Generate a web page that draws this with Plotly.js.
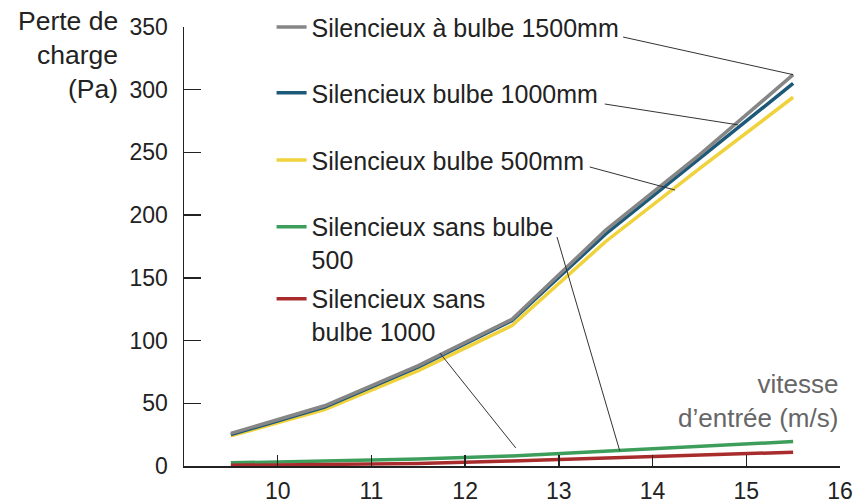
<!DOCTYPE html>
<html><head><meta charset="utf-8">
<script src="https://cdn.plot.ly/plotly-3.0.1.min.js"></script>
<style>html,body{margin:0;padding:0;background:#fff}</style>
</head><body><div id="chart" style="width:857px;height:504px"></div>
<script>
// ---- data ----
const speed = [9.5, 10.5, 11.5, 12.5, 13.5, 14.5, 15.5];           // vitesse d'entrée (m/s)
const bulbe1500 = [26, 48, 80, 117, 188, 248, 312];                 // Pa
const bulbe1000 = [25, 47, 79, 116, 185, 245, 305];
const bulbe500  = [24, 45, 76, 112, 179, 237, 294];
const sansBulbe500  = [2.5, 4, 5.5, 8, 12, 16, 19.5];
const sansBulbe1000 = [0.5, 1, 2, 4, 6.5, 9, 11];
const seriesNames = [
  'Silencieux à bulbe 1500mm',
  'Silencieux bulbe 1000mm',
  'Silencieux bulbe 500mm',
  'Silencieux sans bulbe<br>500',
  'Silencieux sans<br>bulbe 1000'
];
const xTicks = [10, 11, 12, 13, 14, 15, 16];
const yTicks = [0, 50, 100, 150, 200, 250, 300, 350];
const yTitleLines = ['Perte de', 'charge', '(Pa)'];
const xTitle = 'vitesse<br>d’entrée (m/s)';

// ---- styles ----
const colors = ['#868686', '#1c5878', '#f0d23c', '#3d9e5c', '#a82c2c'];
const FONT = 'Liberation Sans, Arial, sans-serif';

const seriesValues = [bulbe1500, bulbe1000, bulbe500, sansBulbe500, sansBulbe1000];
const legendIds = ['legend', 'legend2', 'legend3', 'legend4', 'legend5'];
const legendTops = [1.052, 0.902, 0.749, 0.597, 0.433];
const drawOrder = [3, 4, 2, 1, 0];

const traces = drawOrder.map(i => ({
  type: 'scatter', mode: 'lines',
  x: speed, y: seriesValues[i], name: seriesNames[i],
  line: {color: colors[i], width: 3.5},
  legend: legendIds[i], hoverinfo: 'x+y+name'
}));

function leg(yTop) {
  return {x: 0.1335, y: yTop, xref: 'paper', yref: 'paper', xanchor: 'left', yanchor: 'top',
    bgcolor: 'rgba(0,0,0,0)', borderwidth: 0, valign: 'top',
    font: {family: FONT, size: 25, color: '#222'}};
}

const plotTop = 27, plotBottom = 466, plotH = plotBottom - plotTop;
const pxToPaperY = px => (plotBottom - px) / plotH;
const yTitleCenters = [21, 55, 89];

const layout = {
  width: 857, height: 504,
  margin: {l: 184, r: 17, t: plotTop, b: 504 - plotBottom, autoexpand: false},
  paper_bgcolor: '#fff', plot_bgcolor: '#fff',
  font: {family: FONT, color: '#222'},
  showlegend: true,
  xaxis: {
    range: [9, 16], tickvals: xTicks, ticktext: xTicks.map(String),
    showgrid: false, zeroline: false, showline: true, linecolor: '#222', linewidth: 1.5,
    ticks: 'inside', ticklen: 11, tickwidth: 1.5, tickcolor: '#222', ticklabelstandoff: 4,
    tickfont: {family: FONT, size: 23, color: '#222'}
  },
  yaxis: {
    range: [0, 350], tickvals: yTicks, ticktext: yTicks.map(String),
    showgrid: false, zeroline: false, showline: true, linecolor: '#222', linewidth: 1.5,
    ticks: 'inside', ticklen: 17, tickwidth: 1.5, tickcolor: '#222', ticklabelstandoff: 10,
    tickfont: {family: FONT, size: 23, color: '#222'}
  },
  annotations: yTitleLines.map((t, k) => ({
      text: t, xref: 'paper', yref: 'paper', x: -0.0975, y: pxToPaperY(yTitleCenters[k]),
      xanchor: 'right', yanchor: 'middle', align: 'right', showarrow: false,
      font: {family: FONT, size: 26.5, color: '#222'}
    })).concat([
    {text: xTitle, xref: 'paper', yref: 'paper', x: 1.0, y: 0.2255, xanchor: 'right', yanchor: 'top',
     align: 'right', showarrow: false, font: {family: FONT, size: 26, color: '#666'}}
  ]),
  shapes: [
    // leader lines from labels to curves
    {type: 'line', xref: 'x', yref: 'y', x0: 13.685, y0: 342, x1: speed[6], y1: bulbe1500[6], line: {color: '#333', width: 1}},
    {type: 'line', xref: 'x', yref: 'y', x0: 13.49, y0: 288.6, x1: 14.91, y1: 272, line: {color: '#333', width: 1}},
    {type: 'line', xref: 'x', yref: 'y', x0: 13.33, y0: 238.4, x1: 14.24, y1: 220, line: {color: '#333', width: 1}},
    {type: 'line', xref: 'x', yref: 'y', x0: 12.98, y0: 182.6, x1: 13.65, y1: 12, line: {color: '#333', width: 1}},
    {type: 'line', xref: 'x', yref: 'y', x0: 11.73, y0: 90.1, x1: 12.54, y1: 14.4, line: {color: '#333', width: 1}}
  ]
};
legendIds.forEach((id, i) => { layout[id] = leg(legendTops[i]); });

Plotly.newPlot('chart', traces, layout, {displayModeBar: false, staticPlot: true});
</script>
</body></html>
